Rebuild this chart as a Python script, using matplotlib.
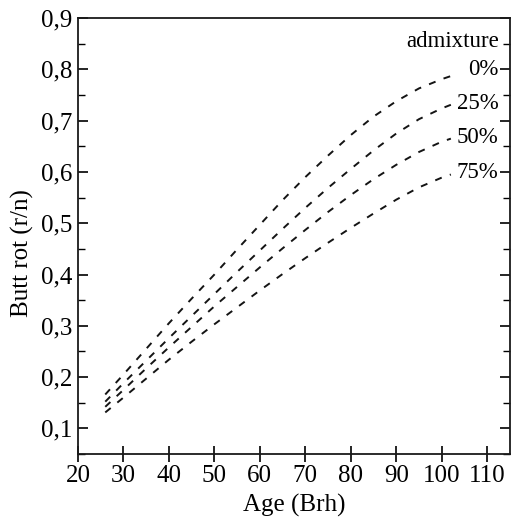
import matplotlib
matplotlib.use('Agg')
import matplotlib.pyplot as plt
import numpy as np
from matplotlib.ticker import MultipleLocator

plt.rcParams['font.family'] = ['Liberation Serif', 'DejaVu Serif']

age = [26, 30, 35, 40, 45, 50, 55, 60, 65, 70, 75, 80, 85, 90, 95, 100, 102]

# butt rot share for each admixture level
rot_0 = [0.166, 0.205, 0.255, 0.305, 0.353, 0.400, 0.449, 0.497, 0.545,
         0.590, 0.632, 0.672, 0.708, 0.738, 0.763, 0.781, 0.787]
rot_25 = [0.152, 0.188, 0.232, 0.276, 0.319, 0.362, 0.405, 0.447, 0.489,
          0.530, 0.569, 0.606, 0.642, 0.675, 0.703, 0.724, 0.731]
rot_50 = [0.142, 0.175, 0.217, 0.258, 0.298, 0.338, 0.376, 0.414, 0.451,
          0.487, 0.522, 0.555, 0.586, 0.614, 0.639, 0.659, 0.665]
rot_75 = [0.131, 0.160, 0.197, 0.234, 0.269, 0.303, 0.336, 0.369, 0.401,
          0.432, 0.462, 0.491, 0.519, 0.546, 0.570, 0.589, 0.595]

labels = ['0%', '25%', '50%', '75%']

xticks = [20, 30, 40, 50, 60, 70, 80, 90, 100, 110]
yticks = [0.1, 0.2, 0.3, 0.4, 0.5, 0.6, 0.7, 0.8, 0.9]
yticklabels = ['0,1', '0,2', '0,3', '0,4', '0,5', '0,6', '0,7', '0,8', '0,9']

f = plt.figure(figsize=(5.11, 5.18), dpi=100)
ax = f.add_axes([0.1526, 0.1236, 0.8454, 0.8414])

for rot in [rot_0, rot_25, rot_50, rot_75]:
    ax.plot(age, rot, color='0.08', linestyle=(0, (3.6, 4.4)), linewidth=1.4)

# label next to the end of each curve (0% sits a bit above its curve)
label_shift = [0.012, 0.002, 0.002, 0.003]
for rot, lab, dy in zip([rot_0, rot_25, rot_50, rot_75], labels, label_shift):
    ax.text(112.5, rot[-1] + dy, lab, fontsize=16.5, ha='right', va='center')
ax.text(112.5, 0.855, 'admixture', fontsize=16.5, ha='right', va='center')

ax.set_xlim(20, 115)
ax.set_ylim(0.05, 0.9)

ax.set_xticks(xticks)
ax.set_xticklabels([str(t) for t in xticks])
ax.set_yticks(yticks)
ax.set_yticklabels(yticklabels)
ax.yaxis.set_minor_locator(MultipleLocator(0.05))

ax.tick_params(axis='x', direction='inout', length=12, width=1.2, pad=2,
               labelsize=18, top=False)
ax.tick_params(axis='y', which='major', direction='in', length=7, width=1.2,
               labelsize=18, right=True, pad=4)
ax.tick_params(axis='y', which='minor', direction='in', length=5, width=1.0,
               right=True)

for s in ax.spines.values():
    s.set_linewidth(1.3)
    s.set_color('0.1')

ax.set_xlabel('Age (Brh)', fontsize=18, labelpad=5)
ax.set_ylabel('Butt rot (r/n)', fontsize=18)
ax.yaxis.set_label_coords(-0.102, 0.46)

f.savefig('out.png', dpi=100)
